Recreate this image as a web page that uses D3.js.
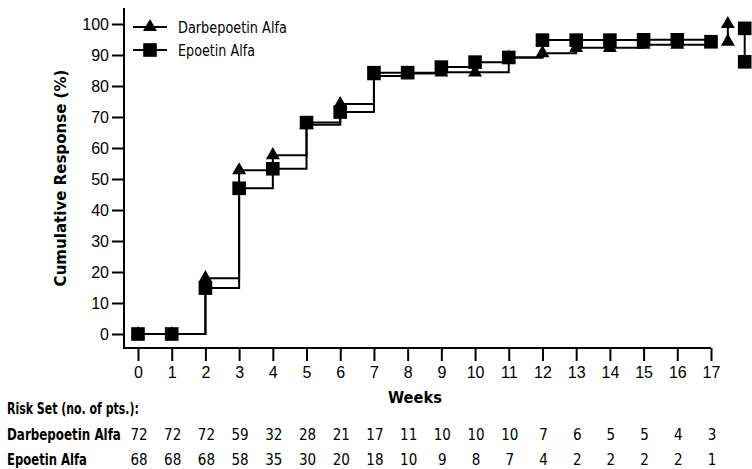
<!DOCTYPE html>
<html>
<head>
<meta charset="utf-8">
<script src="https://cdn.jsdelivr.net/npm/d3@7"></script>
<style>
  body { margin: 0; background: #fff; }
  svg { display: block; font-family: "DejaVu Sans Condensed", "DejaVu Sans", sans-serif; font-stretch: condensed; }
  .axis text { font-size: 16px; fill: #000; }
  .axis line { stroke: #000; stroke-width: 2px; }
  .step { fill: none; stroke: #000; stroke-width: 2px; }
  .lbl { font-weight: bold; font-size: 15px; }
</style>
</head>
<body>
<svg id="chart" width="752" height="469"></svg>
<script>
  // weeks 0..17, cumulative response (%)
  var weeks = d3.range(0, 18);
  var darbepoetin = [0, 0, 18, 52.8, 57.7, 67.5, 74.2, 83.2, 84, 84.4, 84.4, 89.2, 90.6, 92.3, 92.3, 93.3, 93.3, 93.5];
  var epoetin = [0, 0, 14.8, 47, 53.3, 68.2, 71.6, 84.3, 84.3, 86.1, 87.7, 89.2, 94.8, 94.8, 94.8, 94.9, 94.9, 94.3];
  // stray points past week 17
  var darbTail = [[17.5, 100], [17.5, 94.3]];
  var epoTail = [[18, 98.6], [18, 87.8]];

  var yTicks = d3.range(0, 101, 10);
  var riskDarb = [72, 72, 72, 59, 32, 28, 21, 17, 11, 10, 10, 10, 7, 6, 5, 5, 4, 3];
  var riskEpo = [68, 68, 68, 58, 35, 30, 20, 18, 10, 9, 8, 7, 4, 2, 2, 2, 2, 1];

  var svg = d3.select("#chart");

  var x = d3.scaleLinear().domain([0, 17]).range([138, 711]);
  var y = d3.scaleLinear().domain([0, 100]).range([334, 24]);
  var axisX = 124, axisY = 348;

  var tri = d3.symbol().type(d3.symbolTriangle).size(85);
  var sq = d3.symbol().type(d3.symbolSquare).size(185);

  // axes
  var gy = svg.append("g").attr("class", "axis")
      .attr("transform", "translate(" + axisX + ",0)")
      .call(d3.axisLeft(y).tickValues(yTicks).tickSize(12).tickPadding(3).tickSizeOuter(0));
  gy.select(".domain").remove();

  var gx = svg.append("g").attr("class", "axis")
      .attr("transform", "translate(0," + axisY + ")")
      .call(d3.axisBottom(x).tickValues(weeks).tickSize(13).tickPadding(6).tickFormat(d3.format("d")).tickSizeOuter(0));
  gx.select(".domain").remove();

  svg.append("path")
      .attr("d", "M" + axisX + ",8V" + axisY + "H" + x(17))
      .attr("fill", "none").attr("stroke", "#000").attr("stroke-width", 2);

  // step curves
  var line = d3.line()
      .x(function(d, i) { return x(weeks[i]); })
      .y(function(d) { return y(d); })
      .curve(d3.curveStepAfter);

  function series(vals, sym, tail) {
    var g = svg.append("g");
    g.append("path").attr("class", "step").attr("d", line(vals));
    g.append("line").attr("class", "step")
        .attr("x1", x(tail[0][0])).attr("x2", x(tail[1][0]))
        .attr("y1", y(tail[0][1])).attr("y2", y(tail[1][1]));
    g.selectAll(".m").data(vals).join("path")
        .attr("transform", function(d, i) { return "translate(" + x(weeks[i]) + "," + y(d) + ")"; })
        .attr("d", sym);
    g.selectAll(".t").data(tail).join("path")
        .attr("transform", function(d) { return "translate(" + x(d[0]) + "," + y(d[1]) + ")"; })
        .attr("d", sym);
  }
  series(darbepoetin, tri, darbTail);
  series(epoetin, sq, epoTail);

  // text squeezed horizontally to the width it has in the original
  // (tx,ty = left/baseline, w = target width, rot = rotate -90 around centre)
  function fitText(txt, tx, ty, w, cls, size, rot) {
    var t = svg.append("text").attr("class", cls).attr("font-size", size).text(txt);
    if (rot) t.attr("text-anchor", "middle");
    var k = w / t.node().getComputedTextLength();
    t.attr("transform", "translate(" + tx + "," + ty + ")" + (rot ? " rotate(-90)" : "") + " scale(" + k + ",1)");
    return t;
  }

  // legend
  var legend = [["Darbepoetin Alfa", tri, 27, 109], ["Epoetin Alfa", sq, 50, 77]];
  legend.forEach(function(l) {
    svg.append("line").attr("x1", 133).attr("x2", 167).attr("y1", l[2]).attr("y2", l[2])
        .attr("stroke", "#000").attr("stroke-width", 2);
    svg.append("path").attr("transform", "translate(150," + l[2] + ")").attr("d", l[1]);
    fitText(l[0], 178, l[2] + 6, l[3], null, 16);
  });

  // axis titles
  fitText("Cumulative Response (%)", 66, 178, 217, "lbl", 17, true);
  fitText("Weeks", 388, 403, 54, "lbl", 16);

  // risk set table
  fitText("Risk Set (no. of pts.):", 7, 414, 132, "lbl", 15);
  var rows = [["Darbepoetin Alfa", riskDarb, 440, 114], ["Epoetin Alfa", riskEpo, 465, 80]];
  rows.forEach(function(r) {
    fitText(r[0], 7, r[2], r[3], "lbl", 15);
    svg.append("g").selectAll("text").data(r[1]).join("text")
        .attr("x", function(d, i) { return x(weeks[i]) + 1; })
        .attr("y", r[2])
        .attr("text-anchor", "middle").attr("font-size", 15)
        .text(function(d) { return d; });
  });
</script>
</body>
</html>
